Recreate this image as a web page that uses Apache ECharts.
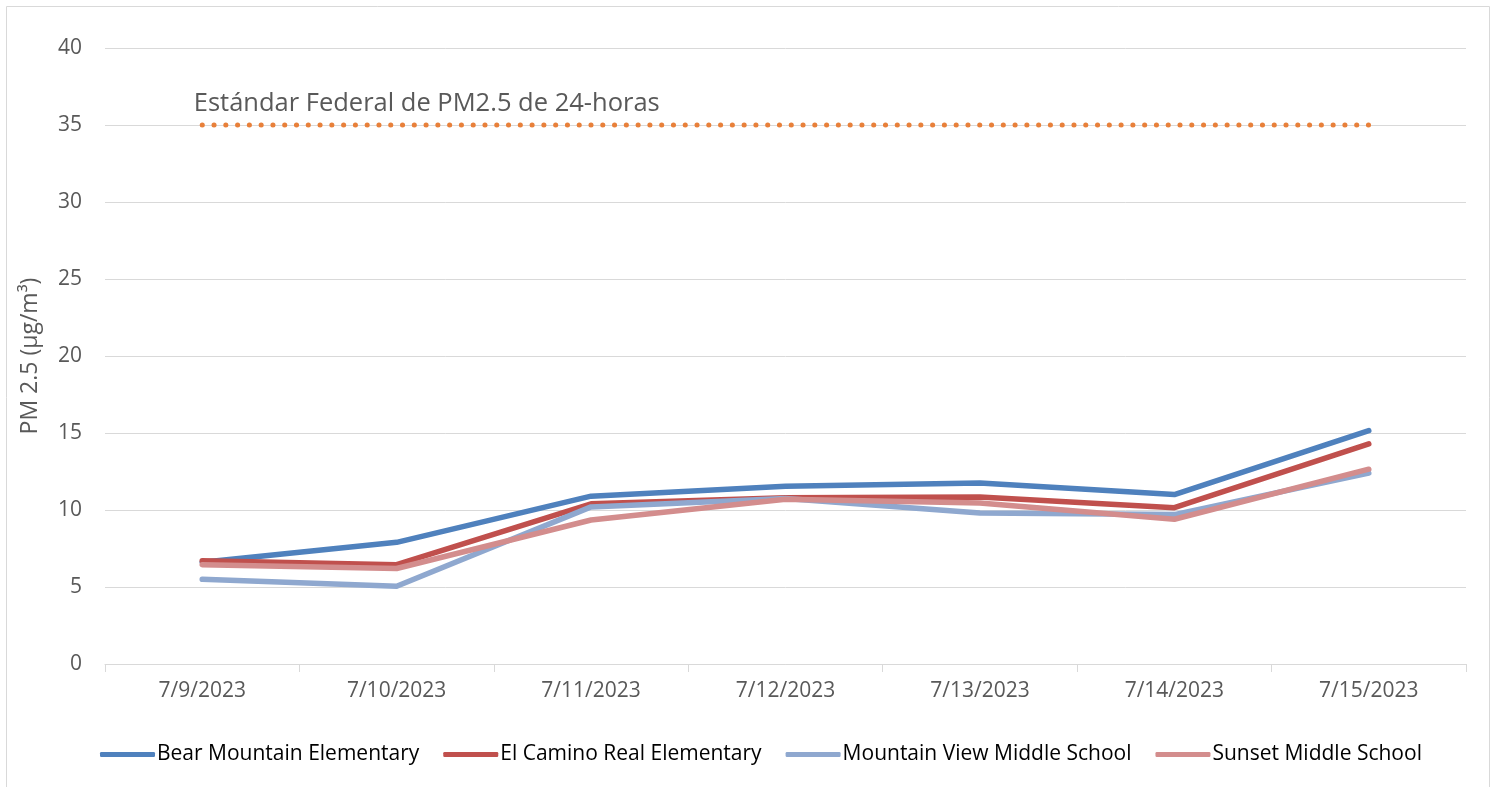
<!DOCTYPE html>
<html>
<head>
<meta charset="utf-8">
<script src="https://cdn.jsdelivr.net/npm/echarts@6/dist/echarts.min.js"></script>
<style>html,body{margin:0;padding:0;background:#fff}#c{width:1501px;height:787px}</style>
</head>
<body>
<div id="c"></div>
<script>
const categories = ['7/9/2023','7/10/2023','7/11/2023','7/12/2023','7/13/2023','7/14/2023','7/15/2023'];
const bearMountain = [6.6, 7.9, 10.9, 11.55, 11.75, 11.0, 15.15];
const elCamino = [6.7, 6.45, 10.4, 10.8, 10.85, 10.15, 14.3];
const mountainView = [5.5, 5.05, 10.2, 10.75, 9.8, 9.7, 12.4];
const sunset = [6.45, 6.2, 9.35, 10.7, 10.45, 9.4, 12.65];
const standard = [35, 35, 35, 35, 35, 35, 35];
const standardLabel = 'Estándar Federal de PM2.5 de 24-horas';
const yTicks = {min: 0, max: 40, interval: 5};

const font = '"Open Sans", sans-serif';
const chart = echarts.init(document.getElementById('c'), null, {renderer: 'canvas'});

function lineSeries(name, data, color) {
  return {
    name, type: 'line', data, symbol: 'none', smooth: false,
    lineStyle: {color, width: 5.5, cap: 'round', join: 'round'},
    itemStyle: {color},
    emphasis: {disabled: true}
  };
}

chart.setOption({
  animation: false,
  textStyle: {fontFamily: font},
  graphic: [{
    type: 'rect', shape: {x: 6.5, y: 6.5, width: 1483, height: 800},
    style: {fill: 'none', stroke: '#d9d9d9', lineWidth: 1}, silent: true
  }],
  grid: {left: 105, right: 35, top: 48, bottom: 123, containLabel: false},
  legend: {
    data: ['Bear Mountain Elementary','El Camino Real Elementary','Mountain View Middle School','Sunset Middle School'],
    top: 739, left: 95,
    icon: 'roundRect', itemWidth: 55, itemHeight: 5, itemGap: 24,
    textStyle: {fontFamily: font, fontSize: 21, color: '#000', padding: [0,0,0,-3]}
  },
  xAxis: {
    type: 'category', data: categories, boundaryGap: true,
    axisLine: {show: true, lineStyle: {color: '#d9d9d9', width: 1}},
    axisTick: {show: true, length: 8, lineStyle: {color: '#d9d9d9'}},
    axisLabel: {fontFamily: font, fontSize: 21, color: '#595959', margin: 17}
  },
  yAxis: {
    type: 'value', min: yTicks.min, max: yTicks.max, interval: yTicks.interval,
    name: 'PM 2.5 (µg/m³)', nameLocation: 'middle', nameGap: 63,
    nameTextStyle: {fontFamily: font, fontSize: 23, color: '#595959'},
    axisLine: {show: false}, axisTick: {show: false},
    axisLabel: {fontFamily: font, fontSize: 21, color: '#595959', margin: 23},
    splitLine: {lineStyle: {color: '#d9d9d9', width: 1}}
  },
  series: [
    lineSeries('Bear Mountain Elementary', bearMountain, '#4F81BD'),
    lineSeries('El Camino Real Elementary', elCamino, '#C0504D'),
    lineSeries('Mountain View Middle School', mountainView, '#8FA8CF'),
    lineSeries('Sunset Middle School', sunset, '#D38D8D'),
    {
      name: 'standard', type: 'line', data: standard, symbol: 'none',
      lineStyle: {color: '#E8803A', width: 5, type: [0.1, 11.68], cap: 'round'},
      emphasis: {disabled: true},
      markPoint: {
        symbol: 'circle', symbolSize: 1, itemStyle: {color: 'rgba(0,0,0,0)'},
        label: {show: true, position: 'right', distance: 0, offset: [-9, -21],
          formatter: standardLabel, fontFamily: font, fontSize: 25.5, color: '#595959'},
        data: [{coord: [categories[0], standard[0]]}]
      }
    }
  ]
});
</script>
</body>
</html>
